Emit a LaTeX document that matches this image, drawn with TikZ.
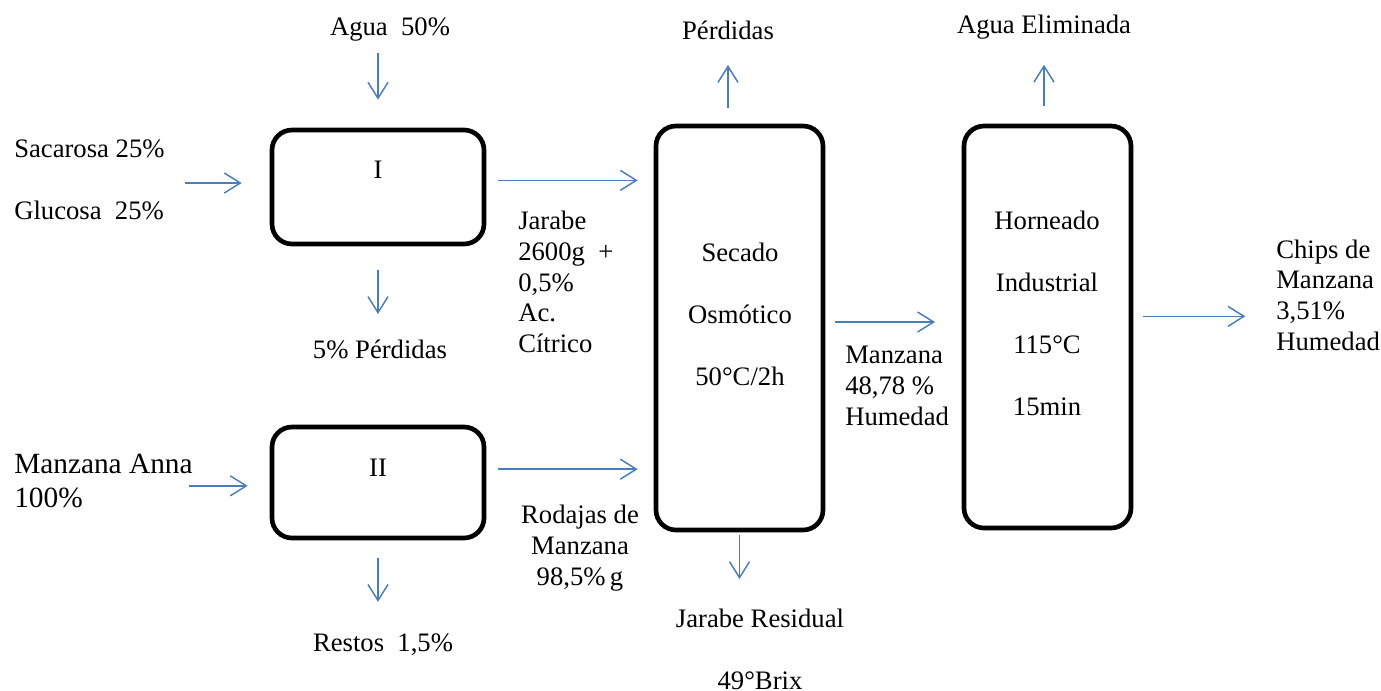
\documentclass[tikz,border=0pt]{standalone}
\usepackage{fontspec}
\setmainfont{Liberation Serif}
\usepackage{xcolor}
\usetikzlibrary{arrows.meta,positioning}
\definecolor{flowblue}{RGB}{74,126,187}

\begin{document}
\begin{tikzpicture}[
    x=0.75pt, y=-0.75pt,
    process/.style={draw, line width=3.5pt, rounded corners=15pt, inner sep=0pt},
    txt/.style={inner sep=0pt, font=\fontsize{20}{23}\selectfont},
    dbl/.style={inner sep=0pt, font=\fontsize{20}{46.5}\selectfont},
    flow/.style={draw=flowblue, line width=1.1pt, -{Straight Barb[length=12pt,width=15pt]}}
]
\useasboundingbox (0,0) rectangle (1381,690);

% process boxes
\node[process, minimum width=212*0.75pt, minimum height=114*0.75pt] (boxI) at (378,187) {};
\node[process, minimum width=212*0.75pt, minimum height=111*0.75pt] (boxII) at (378,482.5) {};
\node[process, minimum width=167*0.75pt, minimum height=404*0.75pt] (secado) at (739.5,328) {};
\node[process, minimum width=167*0.75pt, minimum height=402*0.75pt] (horno) at (1047.5,327) {};

% texts inside boxes
\node[txt] (romI) at (378,170) {I};
\node[txt] (romII) at (378,468) {II};
\node[dbl, align=center] (sectxt) at (740,314) {Secado\\Osmótico\\50°C/2h};
\node[dbl, align=center] (horntxt) at (1047,313) {Horneado\\Industrial\\115°C\\15min};

% inputs and outputs
\node[txt] (agua) at (390,30) {Agua\ \ 50\%};
\node[dbl, align=left, anchor=west] (azucar) at (14,180) {Sacarosa 25\%\\Glucosa\ \ 25\%};
\node[txt] (perdI) at (380,349) {5\% Pérdidas};
\node[txt, font=\fontsize{22}{25.5}\selectfont, align=left, anchor=west] (manzana) at (14,481) {Manzana Anna\\100\%};
\node[txt] (restos) at (383,645) {Restos\ \ 1,5\%};
\node[txt, align=left, anchor=west] (jarabe) at (518,282) {Jarabe\\2600g\ \ +\\0,5\%\\Ac.\\Cítrico};
\node[txt, align=center] (rodajas) at (580,548) {Rodajas de\\Manzana\\98,5\%\,g};
\node[txt] (perdidas) at (728,30) {Pérdidas};
\node[dbl, align=center] (residual) at (760,649) {Jarabe Residual\\49°Brix};
\node[txt, align=left, anchor=west] (manzhum) at (845,386) {Manzana\\48,78 \%\\Humedad};
\node[txt] (aguaelim) at (1044,27) {Agua Eliminada};
\node[txt, align=left, anchor=west] (chips) at (1276,295) {Chips de\\Manzana\\3,51\%\\Humedad};

% flows
\draw[flow, shorten <=8pt, shorten >=21pt] (boxI.north |- agua.south) -- (boxI.north);
\draw[flow, shorten <=15pt, shorten >=21pt] ([yshift=3pt]azucar.east |- boxI.west) -- ([yshift=3pt]boxI.west);
\draw[flow, shorten <=18pt, shorten >=19pt] (boxI.south) -- (boxI.south |- perdI.north);
\draw[flow, shorten <=9pt, shorten >=12pt] ([yshift=5pt]boxI.east) -- ([yshift=5pt]boxI.east -| secado.west);
\draw[flow, shorten <=-3pt, shorten >=16.5pt] ([yshift=-2.5pt]manzana.east |- boxII.west) -- ([yshift=-2.5pt]boxII.west);
\draw[flow, shorten <=13.5pt, shorten >=24pt] (boxII.south) -- (boxII.south |- restos.north);
\draw[flow, shorten <=9pt, shorten >=12pt] ([yshift=10pt]boxII.east) -- ([yshift=10pt]boxII.east -| secado.west);
\draw[flow, shorten <=12pt, shorten >=19pt] (perdidas.south |- secado.north) -- (perdidas.south);
\draw[flow, shorten <=2pt, shorten >=22pt] (secado.south) -- (secado.south |- residual.north);
\draw[flow, shorten <=7.5pt, shorten >=20pt] ([yshift=4.5pt]secado.east) -- ([yshift=4.5pt]secado.east -| horno.west);
\draw[flow, shorten <=13.5pt, shorten >=19pt] (aguaelim.south |- horno.north) -- (aguaelim.south);
\draw[flow, shorten <=7.5pt, shorten >=23pt] ([yshift=8pt]horno.east) -- ([yshift=8pt]horno.east -| chips.west);
\end{tikzpicture}
\end{document}
